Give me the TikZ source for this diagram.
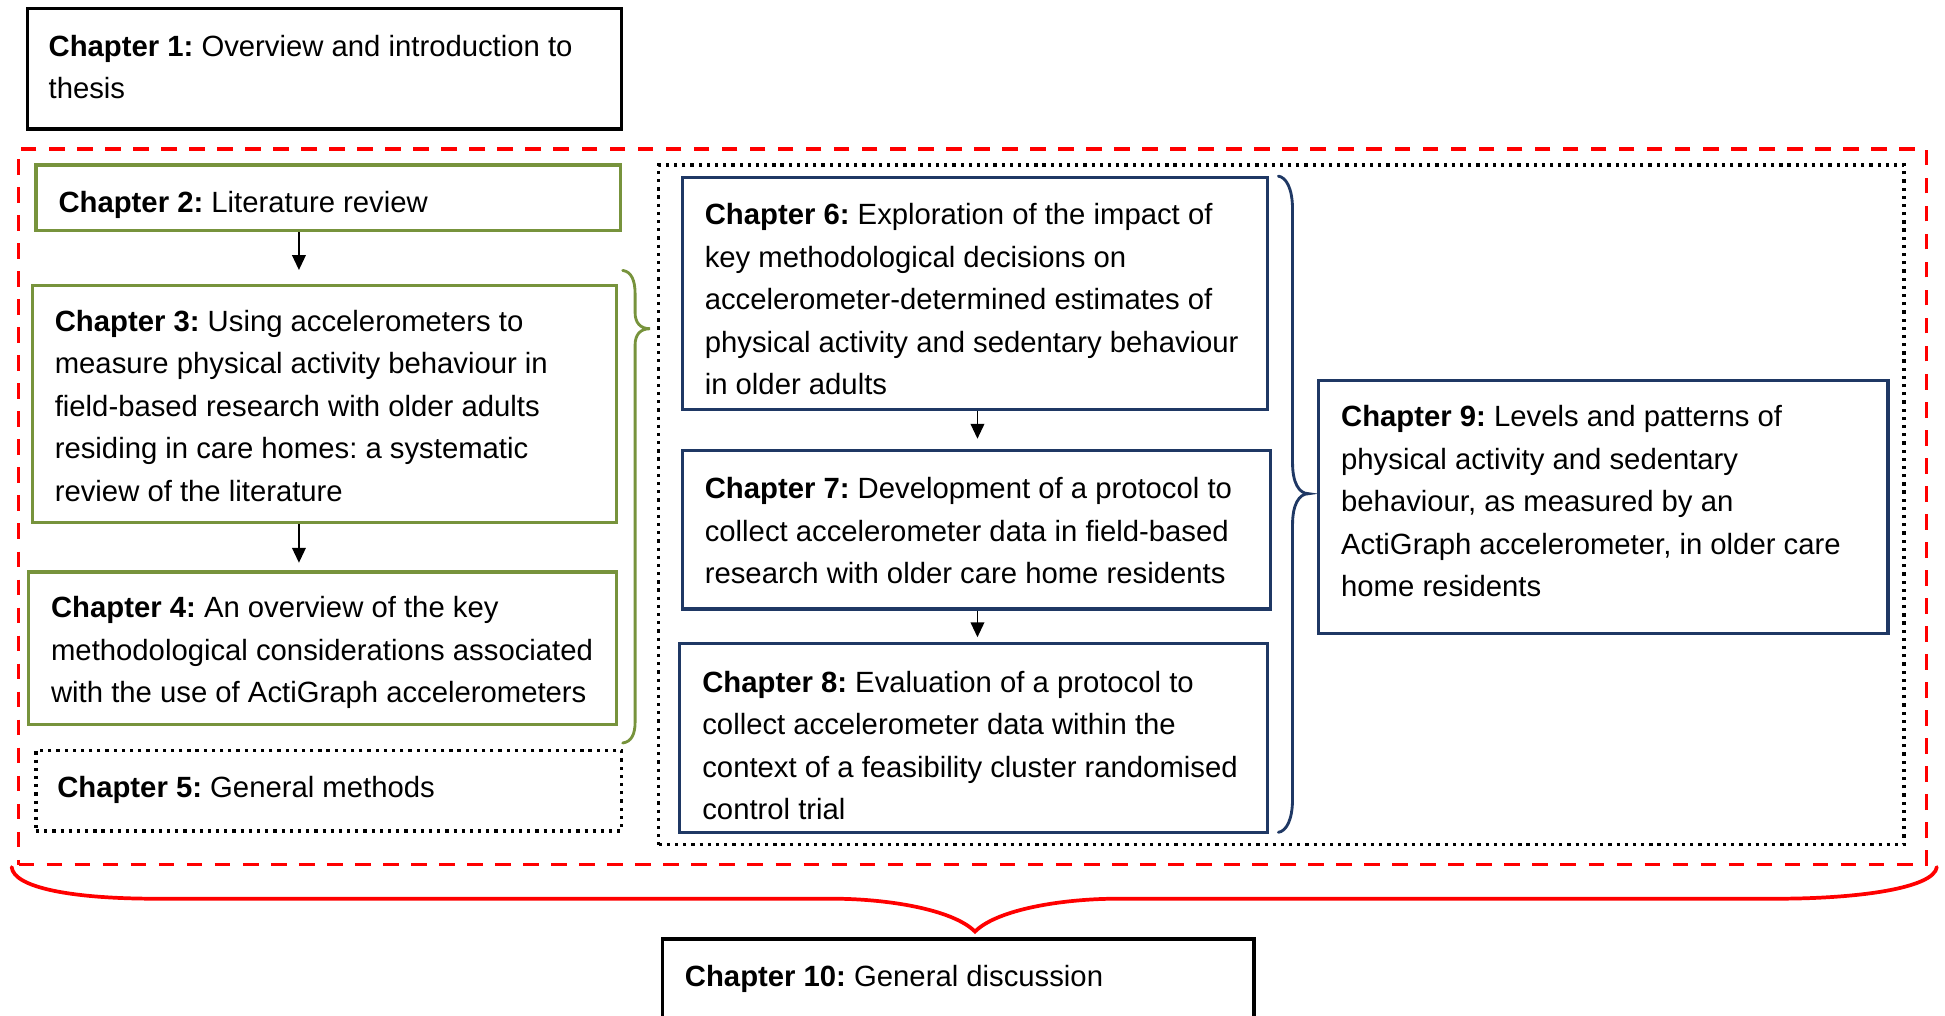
\documentclass[tikz,border=0pt]{standalone}
\usepackage{fontspec}
\setmainfont{Liberation Sans}
\usetikzlibrary{arrows.meta,fit}
\definecolor{chgreen}{HTML}{77933C}
\definecolor{chnavy}{HTML}{1F3864}
\definecolor{chred}{HTML}{FF0000}
% fixed first-line height so every text block starts at a known baseline
\newcommand{\chstrut}{\rule{0pt}{18pt}}
\frenchspacing

\begin{document}
\begin{tikzpicture}[x=1pt,y=-1pt,
  box/.style={draw, rectangle, inner sep=0pt, line width=2.7pt},
  blackbox/.style={box, draw=black},
  greenbox/.style={box, draw=chgreen},
  navybox/.style={box, draw=chnavy, line width=2.6pt},
  dotbox/.style={box, draw=black, line width=2.6pt, dash pattern=on 2.6pt off 4pt},
  reddash/.style={box, draw=chred, line width=3pt, dash pattern=on 12.6pt off 10pt},
  txt/.style={anchor=north west, inner sep=0pt, align=left,
              font=\fontsize{23.6}{34.2}\selectfont},
  arr/.style={line width=1.3pt, -{Triangle[length=12pt,width=11pt]}},
  brace/.style={line width=2.3pt, line cap=round}
]
\path[use as bounding box] (0,0) rectangle (1568,819);
\clip (0,0) rectangle (1568,819);

% outer groupings
\node[reddash, fit={(15,120) (1553,697)}] (core) {};
\node[dotbox, fit={(531,133) (1535,681)}] (empirical) {};

% chapter boxes
\node[blackbox, fit={(22,7) (501,104)}] (c1) {};
\node[greenbox, fit={(29,133) (500,186)}] (c2) {};
\node[greenbox, fit={(26,230) (497,421)}] (c3) {};
\node[greenbox, fit={(23,461) (497,584)}] (c4) {};
\node[dotbox, fit={(29,605) (501,670)}] (c5) {};
\node[navybox, fit={(550,143) (1022,330)}] (c6) {};
\node[navybox, fit={(550,363) (1024,491)}] (c7) {};
\node[navybox, fit={(548,519) (1022,671)}] (c8) {};
\node[navybox, fit={(1063,307) (1522,511)}] (c9) {};
\node[blackbox, fit={(534,757) (1011,850)}] (c10) {};

% chapter texts
\node[txt] (t1) at (39,27) {\chstrut\textbf{Chapter 1:} Overview and introduction to\\thesis};
\node[txt] (t2) at (47,153) {\chstrut\textbf{Chapter 2:} Literature review};
\node[txt] (t3) at (44,249) {\chstrut\textbf{Chapter 3:} Using accelerometers to\\measure physical activity behaviour in\\field-based research with older adults\\residing in care homes: a systematic\\review of the literature};
\node[txt] (t4) at (41,480) {\chstrut\textbf{Chapter 4:} An overview of the key\\methodological considerations associated\\with the use of ActiGraph accelerometers};
\node[txt] (t5) at (46,625) {\chstrut\textbf{Chapter 5:} General methods};
\node[txt] (t6) at (568,163) {\chstrut\textbf{Chapter 6:} Exploration of the impact of\\key methodological decisions on\\accelerometer-determined estimates of\\physical activity and sedentary behaviour\\in older adults};
\node[txt] (t7) at (568,384) {\chstrut\textbf{Chapter 7:} Development of a protocol to\\collect accelerometer data in field-based\\research with older care home residents};
\node[txt] (t8) at (566,540) {\chstrut\textbf{Chapter 8:} Evaluation of a protocol to\\collect accelerometer data within the\\context of a feasibility cluster randomised\\control trial};
\node[txt] (t9) at (1081,326) {\chstrut\textbf{Chapter 9:} Levels and patterns of\\physical activity and sedentary\\behaviour, as measured by an\\ActiGraph accelerometer, in older care\\home residents};
\node[txt] (t10) at (552,777) {\chstrut\textbf{Chapter 10:} General discussion};

% arrow columns
\coordinate (colL) at (241,0);
\coordinate (colR) at (788,0);

% arrows between consecutive chapters
\draw[arr, shorten >=11pt] (c2.south -| colL) -- (c3.north -| colL);
\draw[arr, shorten >=6pt] (c3.south -| colL) -- (c4.north -| colL);
\draw[arr, shorten >=8pt] (c6.south -| colR) -- (c7.north -| colR);
\draw[arr, shorten >=4pt] (c7.south -| colR) -- (c8.north -| colR);

% brace grouping chapters 3 and 4
\draw[brace, chgreen] (502,218) .. controls (509,219) and (512,226) .. (512,237)
  -- (512,252) .. controls (512,260) and (516,265) .. (524,265)
  .. controls (516,265) and (512,270) .. (512,278)
  -- (512,582) .. controls (512,592) and (509,598) .. (502,599);

% brace grouping chapters 6 to 8
\draw[brace, chnavy] (1030.6,142) .. controls (1037,143) and (1042,152) .. (1042,169)
  -- (1042,373) .. controls (1042,389) and (1047,398) .. (1055,398)
  .. controls (1047,398) and (1042,407) .. (1042,423)
  -- (1042,644) .. controls (1042,661) and (1037,670) .. (1030.6,671);

% brace gathering everything into chapter 10
\draw[brace, chred, line width=3pt] (9.4,699) .. controls (11,716) and (60,724.5) .. (125,724.5)
  -- (671,724.5) .. controls (715,724.5) and (768,733) .. (786,751)
  .. controls (804,733) and (857,724.5) .. (901,724.5)
  -- (1433,724.5) .. controls (1498,724.5) and (1559,716) .. (1561.4,699);
\end{tikzpicture}
\end{document}
